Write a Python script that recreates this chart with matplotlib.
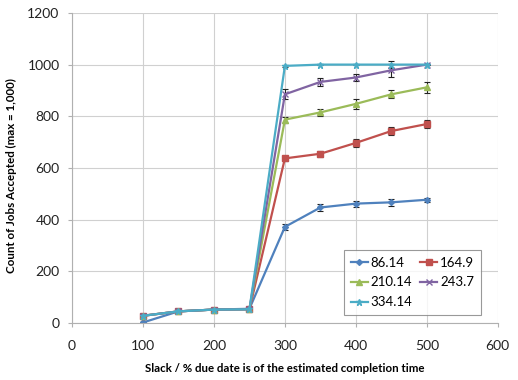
import numpy as np
import matplotlib.pyplot as plt
from matplotlib.lines import Line2D

plt.rcParams['font.family'] = ['Lato', 'DejaVu Sans']

# slack values (x axis)
slack = [100, 150, 200, 250, 300, 350, 400, 450, 500]

series_names = ['86.14', '164.9', '210.14', '243.7', '334.14']

jobs_86 = [2, 45, 52, 55, 372, 447, 462, 467, 477]
jobs_164 = [28, 45, 52, 53, 637, 655, 697, 743, 770]
jobs_210 = [28, 45, 52, 53, 787, 815, 848, 885, 912]
jobs_243 = [28, 45, 52, 53, 885, 933, 950, 978, 1000]
jobs_334 = [28, 45, 52, 53, 995, 1000, 1000, 1000, 1000]

err_86 = [2, 3, 3, 3, 12, 15, 12, 14, 8]
err_164 = [2, 3, 3, 3, 10, 12, 15, 15, 15]
err_210 = [2, 3, 3, 3, 12, 12, 18, 15, 20]
err_243 = [2, 3, 3, 3, 20, 15, 12, 25, 3]
err_334 = [2, 3, 3, 3, 5, 2, 2, 12, 2]

colors = ['#4F81BD', '#C0504D', '#9BBB59', '#8064A2', '#4BACC6']
markers = ['D', 's', '^', 'x', '*']
msizes = [3, 5, 5, 5, 5]

fig = plt.figure(figsize=(5.18, 3.80), dpi=100)
ax = fig.add_axes([0.139, 0.150, 0.822, 0.816])

all_y = [jobs_86, jobs_164, jobs_210, jobs_243, jobs_334]
all_e = [err_86, err_164, err_210, err_243, err_334]
handles = []
for name, y, e, c, m, ms in zip(series_names, all_y, all_e, colors, markers, msizes):
    ax.errorbar(slack, y, yerr=e, color=c, marker=m, markersize=ms,
                linewidth=1.6, ecolor='#222222', elinewidth=0.8, capsize=2,
                capthick=0.8)
    handles.append(Line2D([], [], color=c, marker=m, markersize=ms,
                          linewidth=1.6, label=name))

ax.set_xlim(0, 600)
ax.set_ylim(0, 1200)
ax.set_xticks(range(0, 601, 100))
ax.set_yticks(range(0, 1201, 200))
ax.grid(True, color='#d0d0d0', linewidth=0.8)
ax.set_axisbelow(True)
for s in ['top', 'right']:
    ax.spines[s].set_visible(False)
for s in ['left', 'bottom']:
    ax.spines[s].set_color('#b0b0b0')
ax.tick_params(labelsize=10, color='#b0b0b0', length=3, labelcolor='#222222')
ax.tick_params(axis='x', pad=9)
ax.tick_params(axis='y', pad=6)

ax.set_xlabel('Slack / % due date is of the estimated completion time',
              fontsize=8.3, fontweight='bold', va='top')
ax.xaxis.set_label_coords(0.5, -0.13)
ax.set_ylabel('Count of Jobs Accepted (max = 1,000)', fontsize=8.3,
              fontweight='bold', va='bottom')
ax.yaxis.set_label_coords(-0.129, 0.476)

# row-wise legend order like the original
order = [0, 2, 4, 1, 3]
leg = ax.legend([handles[i] for i in order], [series_names[i] for i in order],
                ncol=2, loc='lower right', bbox_to_anchor=(0.96, 0.026),
                fontsize=9.5, frameon=True, fancybox=False, handlelength=1.3,
                columnspacing=0.6, handletextpad=0.2, borderpad=0.5,
                labelspacing=0.6, borderaxespad=0)
leg.get_frame().set_edgecolor('#808080')
leg.get_frame().set_linewidth(0.8)

fig.savefig('out.png', dpi=100)
